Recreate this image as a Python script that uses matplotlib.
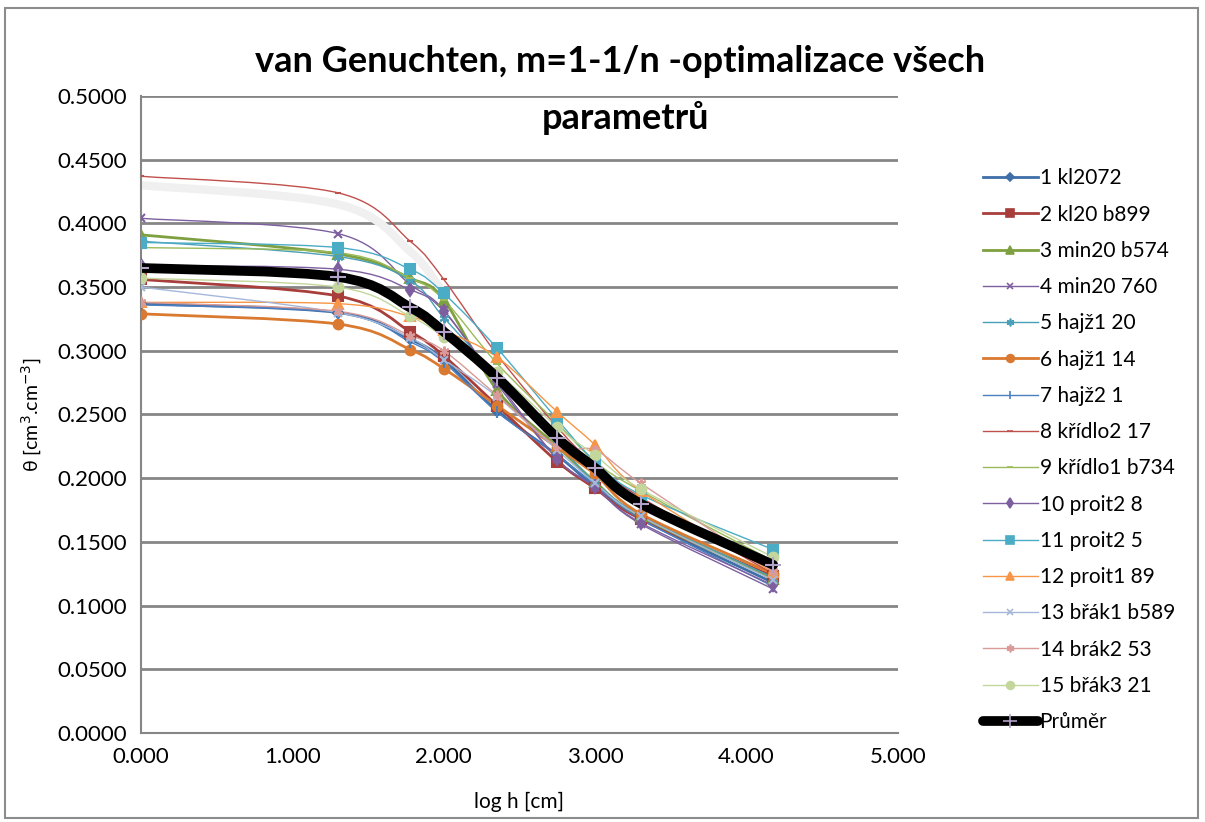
import matplotlib

matplotlib.use("Agg")

import numpy as np
from matplotlib import pyplot as plt
from matplotlib.lines import Line2D
from matplotlib.patches import PathPatch, Rectangle
from matplotlib.path import Path

plt.rcParams["font.family"] = ["Lato", "DejaVu Sans"]

# log h [cm] of the measured pressure heads
LOG_H = [0.0, 1.301, 1.778, 2.0, 2.352, 2.75, 3.0, 3.301, 4.176]

LABELS = [
    "1 kl2072", "2 kl20 b899", "3 min20 b574", "4 min20 760", "5 hajž1 20",
    "6 hajž1 14", "7 hajž2 1", "8 křídlo2 17", "9 křídlo1 b734", "10 proit2 8",
    "11 proit2 5", "12 proit1 89", "13 břák1 b589", "14 brák2 53", "15 břák3 21",
]

THETA = [
    [0.337, 0.330, 0.309, 0.293, 0.253, 0.218, 0.193, 0.168, 0.118],
    [0.356, 0.343, 0.315, 0.296, 0.257, 0.213, 0.192, 0.168, 0.123],
    [0.391, 0.376, 0.357, 0.340, 0.269, 0.225, 0.197, 0.170, 0.121],
    [0.404, 0.392, 0.352, 0.332, 0.274, 0.215, 0.193, 0.164, 0.113],
    [0.386, 0.374, 0.355, 0.326, 0.280, 0.227, 0.197, 0.171, 0.122],
    [0.329, 0.321, 0.301, 0.286, 0.257, 0.224, 0.203, 0.172, 0.125],
    [0.336, 0.330, 0.307, 0.291, 0.252, 0.218, 0.195, 0.168, 0.115],
    [0.437, 0.424, 0.386, 0.356, 0.297, 0.240, 0.210, 0.185, 0.125],
    [0.381, 0.377, 0.357, 0.340, 0.290, 0.243, 0.213, 0.190, 0.135],
    [0.367, 0.364, 0.348, 0.331, 0.276, 0.215, 0.193, 0.165, 0.116],
    [0.385, 0.381, 0.364, 0.345, 0.302, 0.246, 0.213, 0.187, 0.144],
    [0.338, 0.337, 0.327, 0.316, 0.295, 0.252, 0.226, 0.190, 0.126],
    [0.350, 0.330, 0.310, 0.293, 0.264, 0.222, 0.196, 0.170, 0.120],
    [0.338, 0.331, 0.312, 0.300, 0.265, 0.225, 0.222, 0.196, 0.127],
    [0.357, 0.350, 0.327, 0.311, 0.283, 0.240, 0.218, 0.1915, 0.138],
]

MEAN_LABEL = "Průměr"
THETA_MEAN = [0.365, 0.358, 0.334, 0.315, 0.279, 0.2315, 0.208, 0.180, 0.132]

# faint grey shadow curve visible in the original picture
SHADOW_X = [0.0, 1.301, 1.778, 2.0]
SHADOW_Y = [0.430, 0.415, 0.378, 0.345]

STYLES = [
    dict(color="#3F6FA8", marker="D", ms=5, lw=2.0),
    dict(color="#A83E3B", marker="s", ms=7, lw=2.0),
    dict(color="#7FA040", marker="^", ms=7, lw=2.0),
    dict(color="#7D5FA0", marker="x", ms=6, lw=1.0),
    dict(color="#4AA0B8", marker=(6, 2, 0), ms=7, lw=1.0),
    dict(color="#D97A30", marker="o", ms=7, lw=2.0),
    dict(color="#4A7FC0", marker="|", ms=8, lw=1.0),
    dict(color="#C0504D", marker="_", ms=5, lw=1.0),
    dict(color="#9BBB59", marker="_", ms=6, lw=1.0),
    dict(color="#7D5FA0", marker="d", ms=6, lw=1.0),
    dict(color="#4BACC6", marker="s", ms=7, lw=1.0),
    dict(color="#F79646", marker="^", ms=7, lw=1.0),
    dict(color="#A5B8DA", marker="x", ms=6, lw=1.0),
    dict(color="#D99A98", marker=(6, 2, 0), ms=7, lw=1.0),
    dict(color="#C3D69B", marker="o", ms=7, lw=1.0),
]


def smooth_path(xs, ys):
    # Excel-like smoothed line as cubic bezier segments
    pts = np.column_stack([xs, ys]).astype(float)
    n = len(pts)
    verts = [pts[0]]
    codes = [Path.MOVETO]
    for i in range(n - 1):
        p0 = pts[i - 1] if i > 0 else pts[i]
        p1, p2 = pts[i], pts[i + 1]
        p3 = pts[i + 2] if i + 2 < n else pts[i + 1]
        verts += [p1 + (p2 - p0) / 6, p2 - (p3 - p1) / 6, p2]
        codes += [Path.CURVE4] * 3
    return Path(verts, codes)


fig = plt.figure(figsize=(12.05, 8.22), dpi=100)
ax = fig.add_axes([141 / 1205, 1 - 733 / 822, (898 - 141) / 1205, (733 - 96) / 822])

fig.patches.append(
    Rectangle((5 / 1205, 4 / 822), 1193 / 1205, 810 / 822, transform=fig.transFigure,
              fill=False, edgecolor="#8C8C8C", linewidth=1.5)
)

ax.add_patch(PathPatch(smooth_path(SHADOW_X, SHADOW_Y), facecolor="none",
                       edgecolor="#F0F0F0", linewidth=6, zorder=1))

handles = []
for vals, label, st in zip(THETA, LABELS, STYLES):
    ax.add_patch(PathPatch(smooth_path(LOG_H, vals), facecolor="none",
                           edgecolor=st["color"], linewidth=st["lw"], zorder=2))
    ax.plot(LOG_H, vals, linestyle="none", marker=st["marker"], markersize=st["ms"],
            color=st["color"], markeredgecolor=st["color"], markeredgewidth=1.5, zorder=3)
    handles.append(Line2D([], [], color=st["color"], linewidth=st["lw"], marker=st["marker"],
                          markersize=st["ms"] * 0.8, markeredgewidth=1.2, label=label))

ax.add_patch(PathPatch(smooth_path(LOG_H, THETA_MEAN), facecolor="none",
                       edgecolor="black", linewidth=7, capstyle="round", zorder=4))
ax.plot(LOG_H, THETA_MEAN, linestyle="none", marker="+", markersize=12,
        markeredgewidth=1.5, color="#B3A2C7", zorder=5)
handles.append(Line2D([], [], color="black", linewidth=7, solid_capstyle="round",
                      marker="+", markersize=10, markeredgecolor="#B3A2C7",
                      markeredgewidth=1.2, label=MEAN_LABEL))

ax.set_xlim(0, 5)
ax.set_ylim(0, 0.5)
ax.set_xticks(np.arange(0, 5.01, 1.0))
ax.set_yticks(np.arange(0, 0.501, 0.05))
ax.xaxis.set_major_formatter(matplotlib.ticker.FormatStrFormatter("%.3f"))
ax.yaxis.set_major_formatter(matplotlib.ticker.FormatStrFormatter("%.4f"))
ax.tick_params(length=0, labelsize=16, pad=10)
ax.grid(axis="y", color="#868686", linewidth=2)
ax.set_axisbelow(True)
for side in ("top", "right"):
    ax.spines[side].set_visible(False)
for side in ("left", "bottom"):
    ax.spines[side].set_color("#868686")
    ax.spines[side].set_linewidth(1.5)

ax.set_xlabel("log h [cm]", fontsize=15, labelpad=18)
ax.set_ylabel("θ [cm$^3$.cm$^{-3}$]", fontsize=14, labelpad=10)

fig.text(620 / 1205, 1 - 62 / 822, "van Genuchten, m=1-1/n -optimalizace všech",
         ha="center", va="center", fontsize=26, fontweight="bold")
fig.text(625 / 1205, 1 - 118 / 822, "parametrů", ha="center", va="center",
         fontsize=26, fontweight="bold")

fig.legend(handles=handles, loc="upper left", bbox_to_anchor=(975 / 1205, 1 - 160 / 822),
           frameon=False, fontsize=15, handlelength=2.6, handletextpad=0.1,
           labelspacing=0.78, borderaxespad=0)

fig.savefig("out.png", dpi=100)
